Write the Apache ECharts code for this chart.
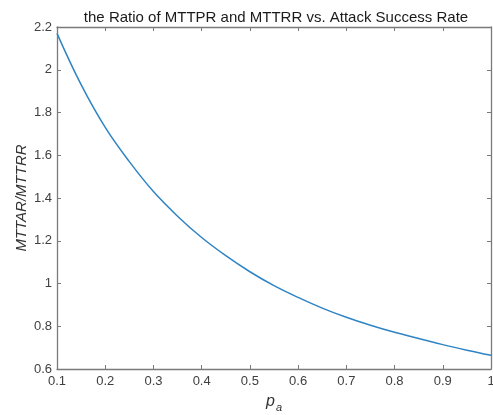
<!DOCTYPE html>
<html>
<head>
<meta charset="utf-8">
<script src="https://cdn.jsdelivr.net/npm/echarts@6/dist/echarts.min.js"></script>
<style>
  html, body { margin: 0; padding: 0; background: #fff; }
  #chart { width: 493px; height: 415px; }
</style>
</head>
<body>
<div id="chart"></div>
<script>
// Attack success rate p_a
const pa = [0.10, 0.15, 0.20, 0.25, 0.30, 0.35, 0.40, 0.45, 0.50, 0.55,
            0.60, 0.65, 0.70, 0.75, 0.80, 0.85, 0.90, 0.95, 1.00];
// MTTAR / MTTRR ratio at each p_a
const ratio = [2.17, 1.93, 1.73, 1.57, 1.43, 1.315, 1.215, 1.13, 1.055, 0.99,
               0.935, 0.885, 0.842, 0.805, 0.772, 0.743, 0.714, 0.688, 0.664];
// Axis tick values
const xTicks = [0.1, 0.2, 0.3, 0.4, 0.5, 0.6, 0.7, 0.8, 0.9, 1];
const yTicks = [0.6, 0.8, 1, 1.2, 1.4, 1.6, 1.8, 2, 2.2];

const axisGrey = '#7a7a7a';
const font = 'Liberation Sans, Arial, sans-serif';

const chart = echarts.init(document.getElementById('chart'), null, { renderer: 'canvas' });

const baseAxis = {
  axisLine: { show: true, lineStyle: { color: axisGrey, width: 1.3 } },
  axisTick: { show: true, inside: true, length: 4, lineStyle: { color: axisGrey, width: 1 } },
  splitLine: { show: false }
};

chart.setOption({
  animation: false,
  backgroundColor: '#ffffff',
  title: {
    text: 'the Ratio of MTTPR and MTTRR vs. Attack Success Rate',
    left: 271, top: 5, textAlign: 'center',
    textStyle: { fontFamily: font, fontSize: 15, fontWeight: 'normal', color: '#1a1a1a' }
  },
  grid: { left: 57, right: 2, top: 27, bottom: 46, containLabel: false, outerBoundsMode: 'none' },
  xAxis: [
    Object.assign({}, baseAxis, {
      type: 'value', position: 'bottom',
      min: xTicks[0], max: xTicks[xTicks.length - 1], interval: 0.1,
      name: '{p|p}{a|a}', nameLocation: 'middle', nameGap: 21,
      nameTextStyle: {
        rich: {
          p: { fontFamily: font, fontSize: 16, fontStyle: 'italic', color: '#333' },
          a: { fontFamily: font, fontSize: 11, fontStyle: 'italic', color: '#333', verticalAlign: 'bottom', padding: [12, 0, 0, 1] }
        }
      },
      axisLabel: { fontFamily: font, fontSize: 13, color: '#404040', margin: 6 }
    }),
    Object.assign({}, baseAxis, {
      type: 'value', position: 'top',
      min: xTicks[0], max: xTicks[xTicks.length - 1], interval: 0.1,
      axisLabel: { show: false }
    })
  ],
  yAxis: [
    Object.assign({}, baseAxis, {
      type: 'value', position: 'left',
      min: yTicks[0], max: yTicks[yTicks.length - 1], interval: 0.2,
      name: 'MTTAR/MTTRR', nameLocation: 'middle', nameGap: 28, nameRotate: 90,
      nameMoveOverlap: false,
      nameTextStyle: { fontFamily: font, fontSize: 15, fontStyle: 'italic', color: '#333' },
      axisLabel: { fontFamily: font, fontSize: 13, color: '#404040', margin: 5 }
    }),
    Object.assign({}, baseAxis, {
      type: 'value', position: 'right',
      min: yTicks[0], max: yTicks[yTicks.length - 1], interval: 0.2,
      axisLabel: { show: false }
    })
  ],
  series: [{
    type: 'line',
    xAxisIndex: 0, yAxisIndex: 0,
    data: pa.map((x, i) => [x, ratio[i]]),
    smooth: 0.4,
    showSymbol: false,
    lineStyle: { color: '#2f84c4', width: 1.5 }
  }]
});
</script>
</body>
</html>
